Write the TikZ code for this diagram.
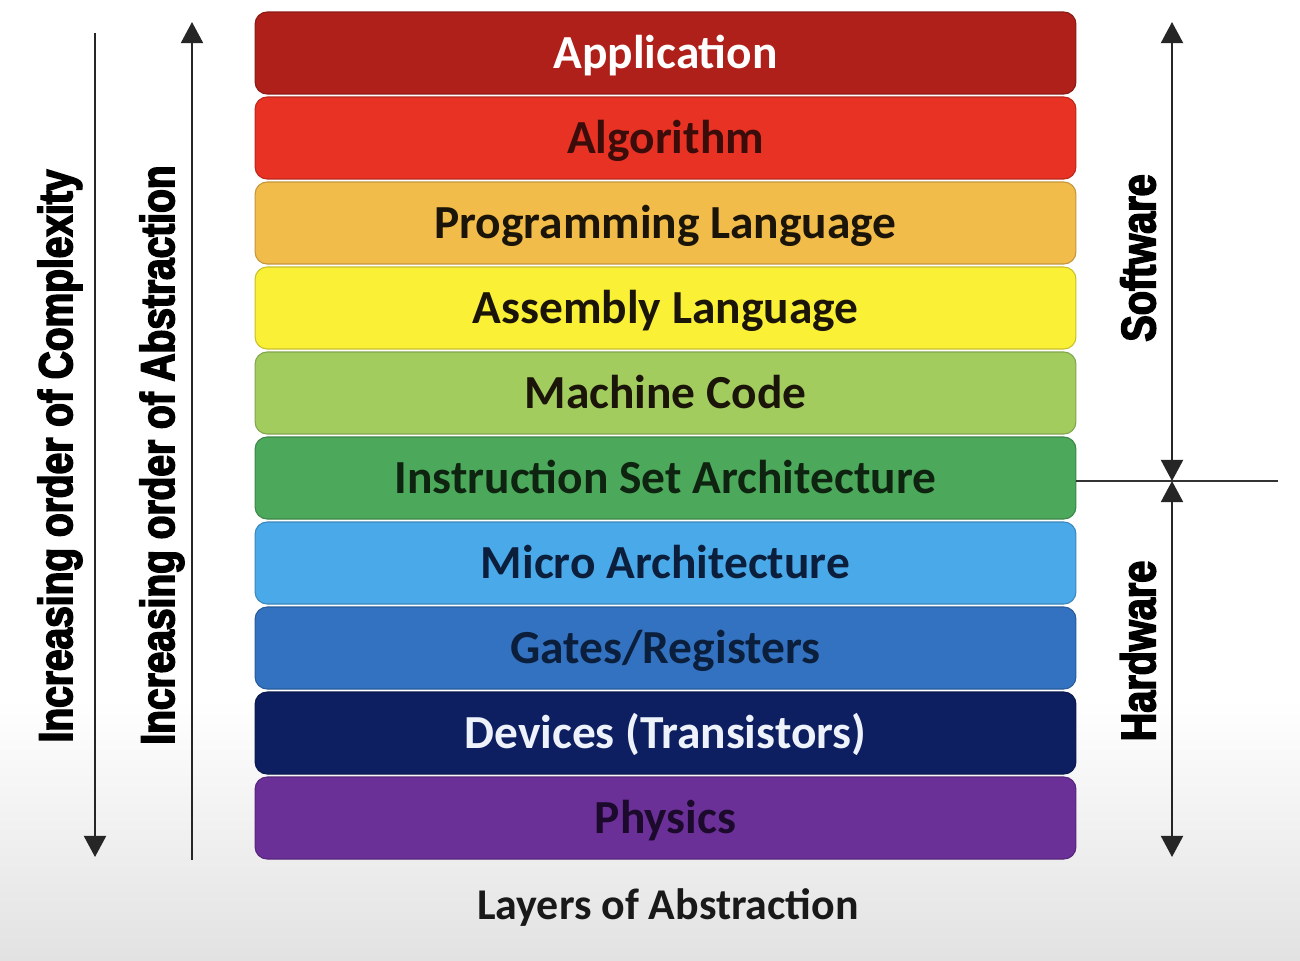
\documentclass[tikz,border=0pt]{standalone}
\usepackage{fontspec}
\setmainfont{Carlito}
\newfontfamily\narrowbold[FakeStretch=0.82]{Liberation Sans Bold}
\newcommand{\heavytext}[1]{\special{pdf:literal direct 2 Tr 0.9 w}#1\special{pdf:literal direct 0 Tr}}
\usetikzlibrary{arrows.meta}
\definecolor{cApp}{HTML}{AE2019}
\definecolor{cAlg}{HTML}{E83223}
\definecolor{cProg}{HTML}{F2BC4A}
\definecolor{cAsm}{HTML}{FAF035}
\definecolor{cMach}{HTML}{A2CD5E}
\definecolor{cIsa}{HTML}{4CA85A}
\definecolor{cMicro}{HTML}{4AA9E8}
\definecolor{cGates}{HTML}{3272C0}
\definecolor{cDev}{HTML}{0D1F60}
\definecolor{cPhys}{HTML}{6A3098}
\definecolor{tAlg}{HTML}{3A0C0A}
\definecolor{tDark}{HTML}{1A1508}
\definecolor{tGreen}{HTML}{0E2410}
\definecolor{tBlue}{HTML}{0B1E3C}
\definecolor{tLight}{HTML}{EEF2FA}
\definecolor{tPhys}{HTML}{1C0A2C}
\definecolor{bgGray}{HTML}{E2E2E2}
\begin{document}
\begin{tikzpicture}[x=0.02cm,y=-0.02cm,
  layer/.style={rectangle, rounded corners=0.24cm, minimum width=16.42cm,
    minimum height=1.64cm, draw=#1!80!black, fill=#1, line width=0.6pt,
    inner sep=0pt, text height=17.4pt, text depth=0pt,
    font=\fontsize{27}{30}\selectfont\bfseries},
  sidelabel/.style={rotate=90, inner sep=0pt, text=black,
    font=\narrowbold\fontsize{27}{30}\selectfont},
  rlabel/.style={rotate=90, inner sep=0pt, text=black,
    font=\narrowbold\fontsize{27.5}{30}\selectfont},
  arr/.style={line width=1.3pt, draw=black!85, -{Triangle[width=12.5pt,length=12pt]}},
  darr/.style={line width=1.3pt, draw=black!85, {Triangle[width=12.5pt,length=12pt]}-{Triangle[width=12.5pt,length=12pt]}},
  sepline/.style={line width=1.1pt, draw=black!80}]
\useasboundingbox (0,0) rectangle (1300,960);
\fill[white] (0,0) rectangle (1300,960);
\shade[top color=white, bottom color=bgGray] (0,700) rectangle (1300,960);

% layers
\node[layer=cApp, text=white]   (app)   at (665.5,53)  {Application};
\node[layer=cAlg, text=tAlg]    (alg)   at (665.5,138) {Algorithm};
\node[layer=cProg, text=tDark]  (prog)  at (665.5,223) {Programming Language};
\node[layer=cAsm, text=tDark]   (asm)   at (665.5,308) {Assembly Language};
\node[layer=cMach, text=tDark]  (mach)  at (665.5,393) {Machine Code};
\node[layer=cIsa, text=tGreen]  (isa)   at (665.5,478) {Instruction Set Architecture};
\node[layer=cMicro, text=tBlue] (micro) at (665.5,563) {Micro Architecture};
\node[layer=cGates, text=tBlue] (gates) at (665.5,648) {Gates/Registers};
\node[layer=cDev, text=tLight]  (dev)   at (665.5,733) {Devices (Transistors)};
\node[layer=cPhys, text=tPhys]  (phys)  at (665.5,818) {Physics};

\node[font=\fontsize{25}{28}\selectfont\bfseries, text=black!90] (title) at (668,907) {Layers of Abstraction};

% left arrows
\coordinate (cxTop) at (95,33);
\coordinate (cxBot) at (95,857);
\draw[arr] (cxTop) -- (cxBot);
\coordinate (abBot) at (192,860);
\coordinate (abTop) at (192,22);
\draw[arr] (abBot) -- (abTop);
\node[sidelabel] (cxLabel) at (60,456) {\heavytext{Increasing order of Complexity}};
\node[sidelabel] (abLabel) at (162,455) {\heavytext{Increasing order of Abstraction}};

% right arrows
\coordinate (swTop) at (1172,22);
\coordinate (mid)   at (1172,481);
\coordinate (hwBot) at (1172,857);
\coordinate (sepEnd) at (1278,481);
\draw[darr] (swTop) -- (mid);
\draw[darr] (mid) -- (hwBot);
\draw[sepline] (isa.east |- mid) -- (sepEnd);
\node[rlabel] (swLabel) at (1138,258) {\heavytext{Software}};
\node[rlabel] (hwLabel) at (1138,651) {\heavytext{Hardware}};
\end{tikzpicture}
\end{document}
